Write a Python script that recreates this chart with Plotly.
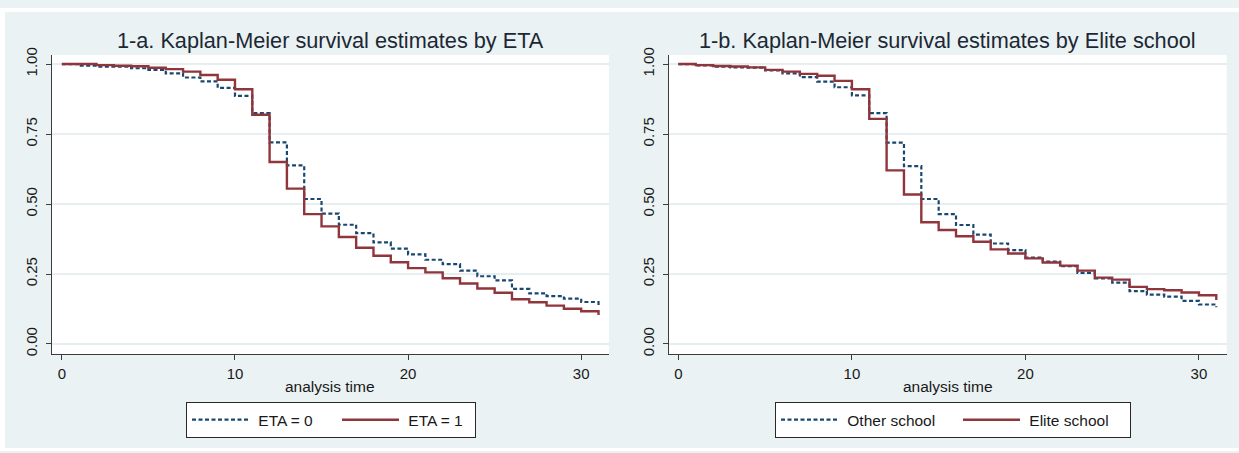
import plotly.graph_objects as go

# ---- data ----
time = list(range(32))
eta0 = [1.000, 0.994, 0.991, 0.991, 0.985, 0.979, 0.967, 0.952, 0.938, 0.915,
        0.886, 0.825, 0.720, 0.638, 0.518, 0.466, 0.426, 0.396, 0.363, 0.341,
        0.320, 0.301, 0.285, 0.262, 0.242, 0.227, 0.197, 0.181, 0.171, 0.162,
        0.150, 0.134]
eta1 = [1.000, 1.000, 0.996, 0.994, 0.992, 0.987, 0.982, 0.973, 0.961, 0.944,
        0.910, 0.819, 0.650, 0.555, 0.464, 0.420, 0.382, 0.344, 0.315, 0.292,
        0.271, 0.256, 0.235, 0.216, 0.198, 0.183, 0.160, 0.149, 0.137, 0.126,
        0.117, 0.104]
other_school = [1.000, 0.995, 0.991, 0.988, 0.987, 0.977, 0.967, 0.953, 0.937, 0.917,
                0.888, 0.825, 0.719, 0.635, 0.518, 0.464, 0.425, 0.391, 0.359, 0.335,
                0.309, 0.294, 0.278, 0.254, 0.234, 0.219, 0.189, 0.176, 0.169, 0.154,
                0.141, 0.131]
elite_school = [1.000, 0.996, 0.993, 0.991, 0.988, 0.979, 0.973, 0.965, 0.958, 0.940,
                0.910, 0.804, 0.620, 0.534, 0.435, 0.407, 0.385, 0.365, 0.338, 0.323,
                0.306, 0.291, 0.280, 0.262, 0.237, 0.230, 0.204, 0.196, 0.192, 0.184,
                0.174, 0.157]
x_ticks = [0, 10, 20, 30]
y_ticks = [0.0, 0.25, 0.5, 0.75, 1.0]
y_tick_labels = ["0.00", "0.25", "0.50", "0.75", "1.00"]
titles = ["1-a. Kaplan-Meier survival estimates by ETA",
          "1-b. Kaplan-Meier survival estimates by Elite school"]
x_title = "analysis time"
names_a = ["ETA = 0", "ETA = 1"]
names_b = ["Other school", "Elite school"]

# ---- style ----
W, H = 1239, 453
NAVY = "rgb(26,71,111)"
MAROON = "rgb(144,53,59)"
BG = "rgb(234,242,243)"
GRID = "rgb(230,238,240)"
AXIS = "rgb(60,60,60)"
TXT = "rgb(25,25,25)"
FONT = "Liberation Sans, Arial, sans-serif"
DOTS = "4px,2.5px"

fig = go.Figure()

def add_pair(xa, ya, s0, s1, nm, leg, w_last):
    fig.add_trace(go.Scatter(
        x=time, y=s0, mode="lines", name="\u00a0" + nm[0],
        line=dict(shape="hv", color=NAVY, width=2.2, dash=DOTS),
        xaxis=xa, yaxis=ya, legend=leg, hoverinfo="skip"))
    fig.add_trace(go.Scatter(
        x=time, y=s1, mode="lines", name="\u00a0" + nm[1],
        line=dict(shape="hv", color=MAROON, width=2.4),
        xaxis=xa, yaxis=ya, legend=leg, legendwidth=w_last, hoverinfo="skip"))

add_pair("x", "y", eta0, eta1, names_a, "legend", 66)
add_pair("x2", "y2", other_school, elite_school, names_b, "legend2", 100)

xr = [-0.57, 31.6]
yr = [-0.0364, 1.0325]
ydom = [1 - 354 / H, 1 - 48 / H]
xdom1 = [52.0 / W, 608.9 / W]
xdom2 = [668.5 / W, 1226.7 / W]

def xaxis(dom, anchor):
    return dict(domain=dom, range=xr, anchor=anchor, tickvals=x_ticks,
                showgrid=False, zeroline=False, showline=True, linecolor=AXIS,
                linewidth=1, ticks="outside", ticklen=5, tickcolor=AXIS,
                tickfont=dict(family=FONT, size=15, color=TXT),
                ticklabelstandoff=1, fixedrange=True)

def yaxis(anchor):
    return dict(domain=ydom, range=yr, anchor=anchor, tickvals=y_ticks,
                ticktext=y_tick_labels, tickangle=-90,
                showgrid=True, gridcolor=GRID, gridwidth=1.5,
                zeroline=False, showline=True, linecolor=AXIS, linewidth=1,
                ticks="outside", ticklen=5, tickcolor=AXIS,
                tickfont=dict(family=FONT, size=15, color=TXT),
                ticklabelstandoff=3, fixedrange=True)

legend_common = dict(orientation="h", yanchor="top", xanchor="left",
                     y=1 - 403 / H, bgcolor="white", bordercolor="rgb(40,40,40)",
                     borderwidth=1, itemwidth=57,
                     font=dict(family=FONT, size=15.5, color=TXT),
                     itemclick=False, itemdoubleclick=False)

annotations = []
for dom, t in ((xdom1, titles[0]), (xdom2, titles[1])):
    cx = (dom[0] + dom[1]) / 2
    annotations.append(dict(text=t, xref="paper", yref="paper", x=cx,
                            y=1 - 33.3 / H, xanchor="center", yanchor="middle",
                            showarrow=False,
                            font=dict(family=FONT, size=21.7, color="rgb(28,40,52)")))
    annotations.append(dict(text=x_title, xref="paper", yref="paper", x=cx,
                            y=1 - 387.3 / H, xanchor="center", yanchor="middle",
                            showarrow=False,
                            font=dict(family=FONT, size=15.5, color=TXT)))

white_bands = [
    dict(x0=0, x1=1, y0=1 - 4 / H, y1=1),
    dict(x0=0, x1=5 / W, y0=0, y1=1),
    dict(x0=0, x1=1, y0=0, y1=1 - 450 / H),
]
shapes = [dict(type="rect", xref="paper", yref="paper", layer="below",
               fillcolor="white", line=dict(width=0), **b) for b in white_bands]

fig.update_layout(
    width=W, height=H, margin=dict(l=0, r=0, t=0, b=0),
    paper_bgcolor=BG, plot_bgcolor="white",
    xaxis=xaxis(xdom1, "y"), yaxis=yaxis("x"),
    xaxis2=xaxis(xdom2, "y2"), yaxis2=yaxis("x2"),
    legend=dict(x=186 / W, entrywidth=78, **legend_common),
    legend2=dict(x=775 / W, entrywidth=110, **legend_common),
    annotations=annotations, shapes=shapes,
    showlegend=True,
)

fig.write_html("out.html", config={"displayModeBar": False})
